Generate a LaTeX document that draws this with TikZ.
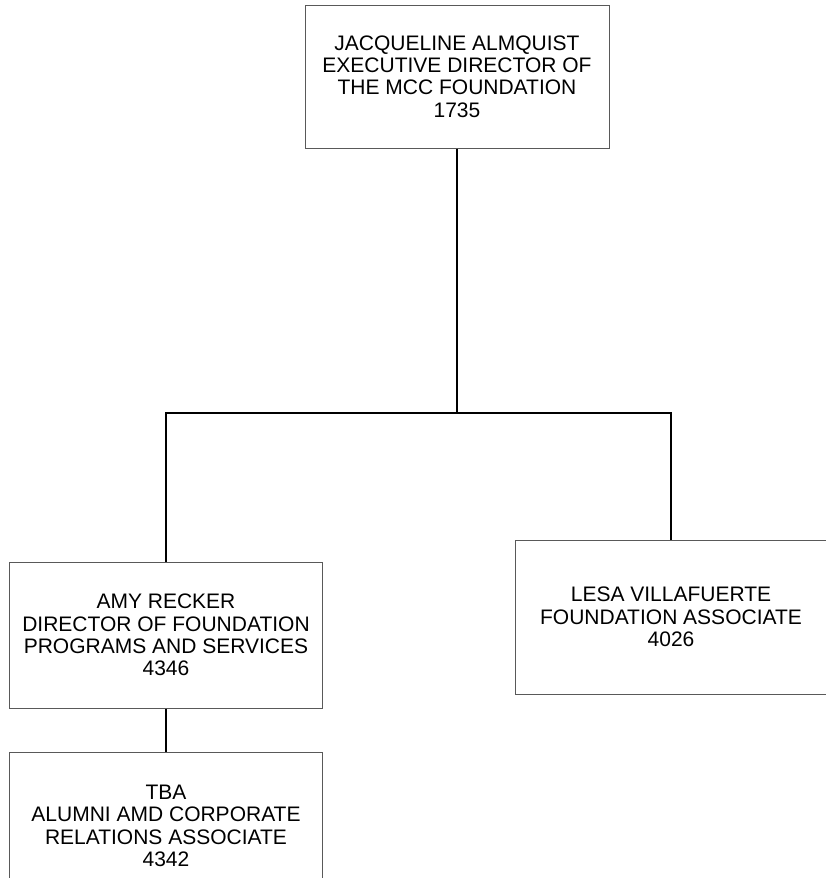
\documentclass[tikz,border=0pt]{standalone}
\usepackage{fontspec}
\setmainfont{Liberation Sans}
\usetikzlibrary{positioning}

\begin{document}
\begin{tikzpicture}[x=1pt,y=-1pt,font=\fontsize{21}{22.4}\selectfont,
  orgbox/.style={rectangle,draw=black!65,line width=1pt,align=center,inner sep=0pt},
  link/.style={draw=black,line width=1.5pt}]
  \useasboundingbox (0,0) rectangle (825,878);
  \node[orgbox,minimum width=304pt,minimum height=143pt] (exec) at (457,76.5) {JACQUELINE ALMQUIST\\EXECUTIVE DIRECTOR OF\\THE MCC FOUNDATION\\1735};
  \node[orgbox,minimum width=313pt,minimum height=146pt] (amy) at (166,635) {AMY RECKER\\DIRECTOR OF FOUNDATION\\PROGRAMS AND SERVICES\\4346};
  \node[orgbox,minimum width=312pt,minimum height=154pt] (lesa) at (671,617) {LESA VILLAFUERTE\\FOUNDATION ASSOCIATE\\4026};
  \node[orgbox,minimum width=313pt,minimum height=148pt] (tba) at (166,826) {TBA\\ALUMNI AMD CORPORATE\\RELATIONS ASSOCIATE\\4342};
  \coordinate (bus) at (457,413);
  % reporting lines
  \draw[link] (exec.south) -- (bus);
  \draw[link] (amy.north) |- (bus) -| (lesa.north);
  \draw[link] (amy.south) -- (tba.north);
\end{tikzpicture}
\end{document}
